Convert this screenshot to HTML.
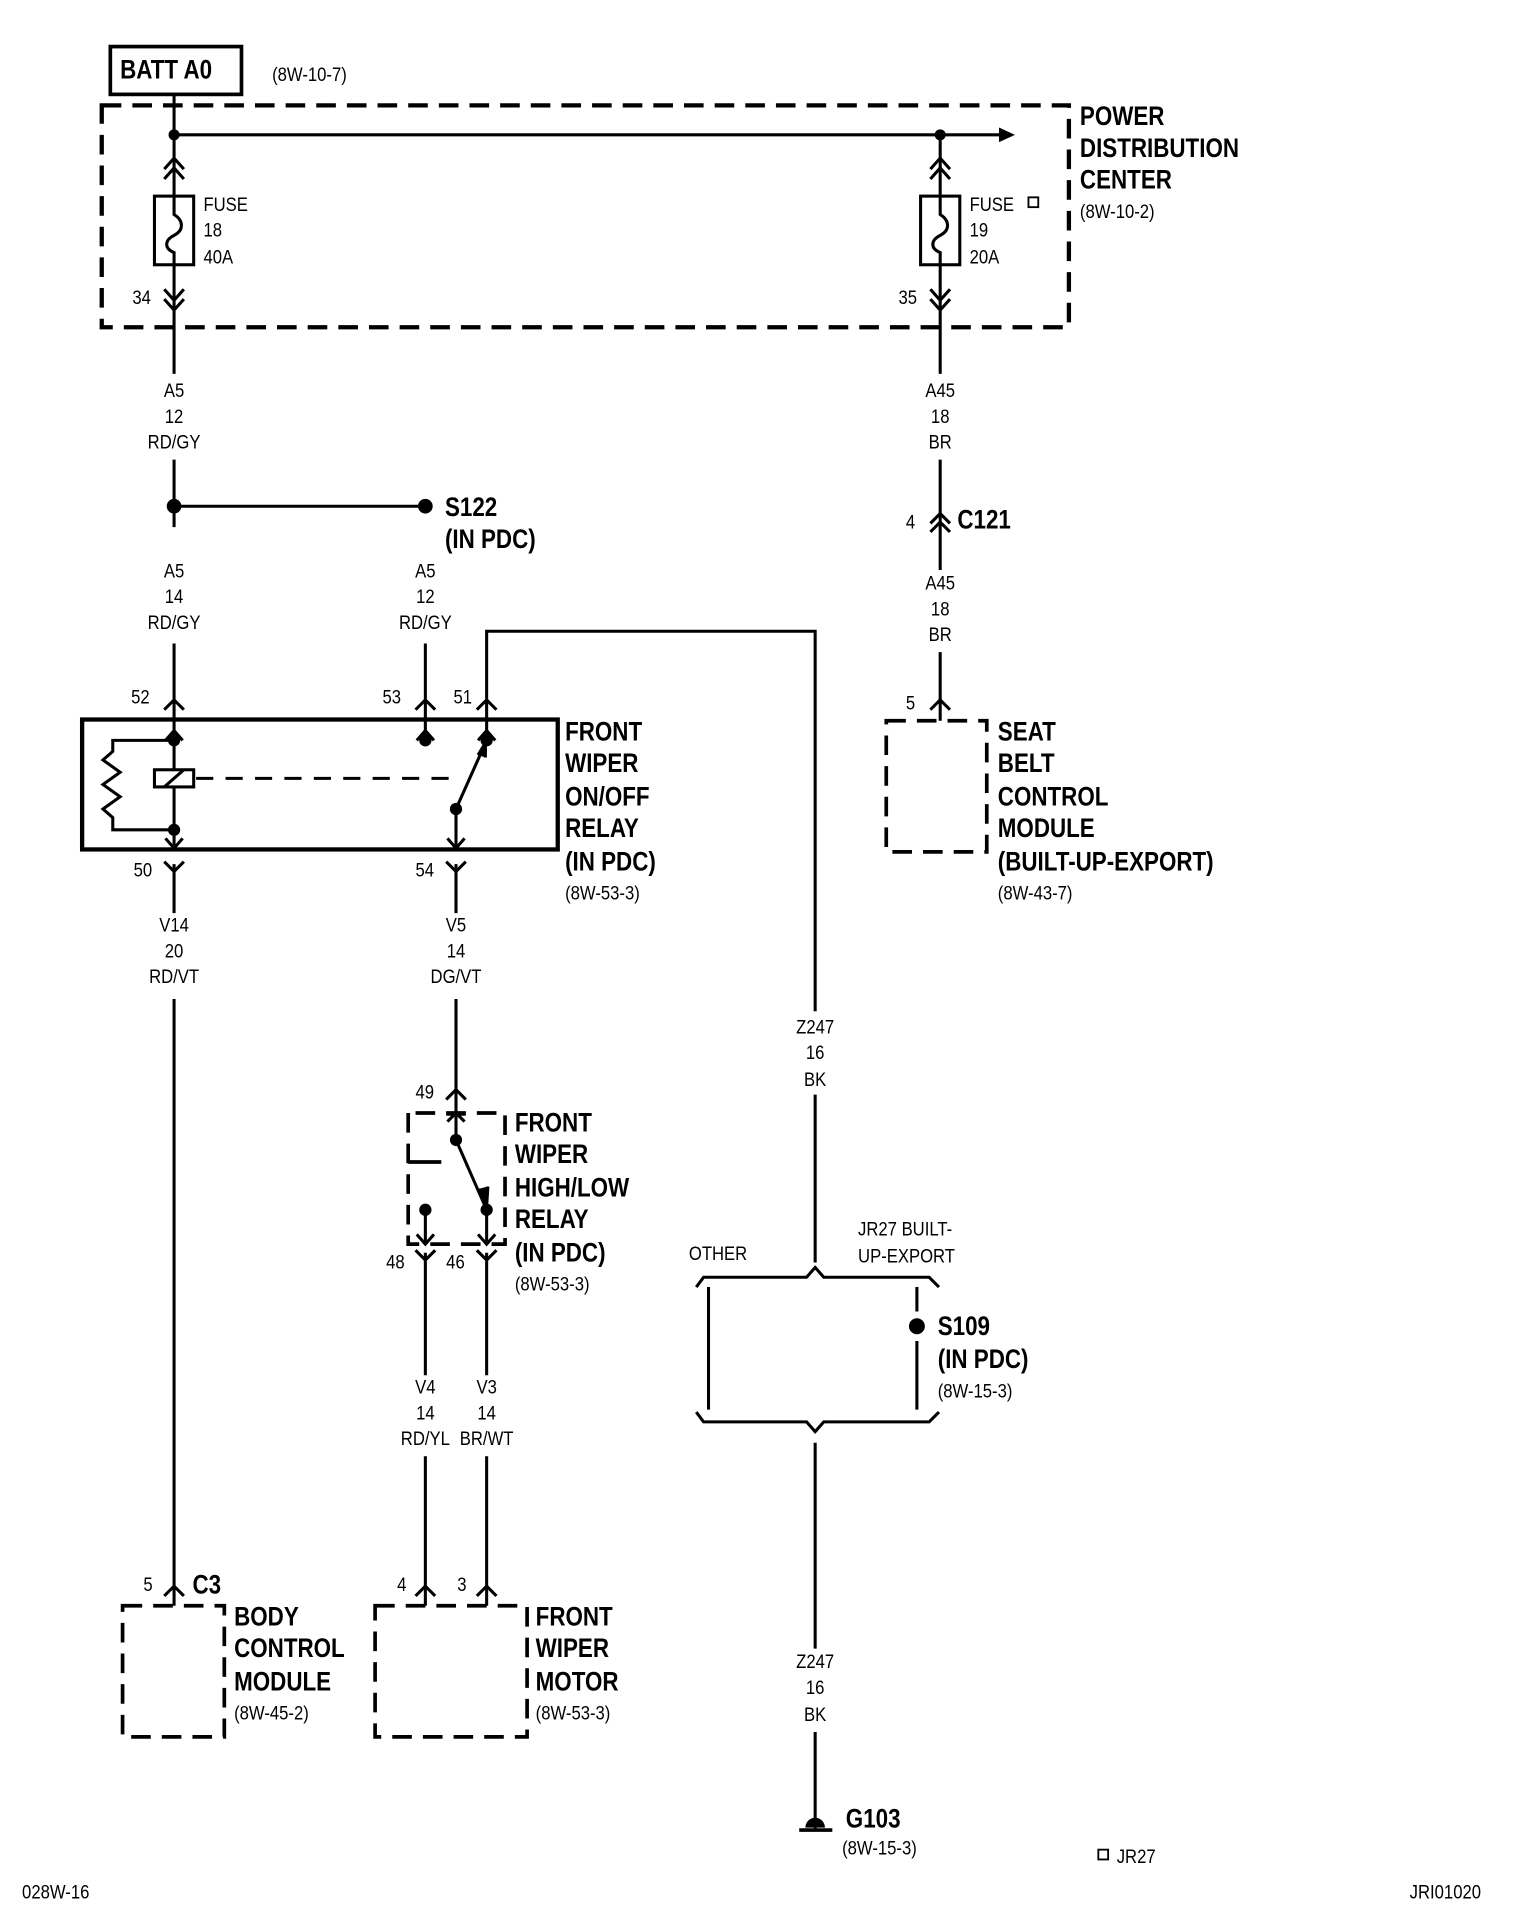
<!DOCTYPE html>
<html><head><meta charset="utf-8"><style>
html,body{margin:0;padding:0;background:#fff;}
svg{display:block;}
text{font-family:"Liberation Sans",sans-serif;fill:#000;transform-box:fill-box;transform-origin:left center;transform:scaleX(0.85);}
.s{font-size:16px;}
.b{font-size:22px;font-weight:bold;transform:scaleX(0.83);}
.c{text-anchor:middle;transform-origin:center center;}
</style></head><body>
<svg width="1520" height="1908" viewBox="0 0 1240 1556.6" preserveAspectRatio="none" xmlns="http://www.w3.org/2000/svg">
<g fill="none" stroke="#000" stroke-width="2.5">
<rect x="90" y="38" width="107" height="39" stroke-width="3"/>
<rect x="83" y="86" width="789" height="181" stroke-width="3.5" stroke-dasharray="16 9"/>
<path d="M142 77 V305"/>
<path d="M142 110 H815"/>
<path d="M767 110 V305"/>
<path d="M134 138 L142 129 L150 138 M134 146 L142 137 L150 146"/>
<rect x="126" y="160" width="32" height="56" fill="#fff"/>
<path d="M142 160 V175 C150 180 150 188 142 192 C134 196 134 203 142 206 V216"/>
<path d="M134 236 L142 245 L150 236 M134 244 L142 253 L150 244"/>
<path d="M759 138 L767 129 L775 138 M759 146 L767 137 L775 146"/>
<rect x="751" y="160" width="32" height="56" fill="#fff"/>
<path d="M767 160 V175 C775 180 775 188 767 192 C759 196 759 203 767 206 V216"/>
<path d="M759 236 L767 245 L775 236 M759 244 L767 253 L775 244"/>
<path d="M142 375 V430"/>
<path d="M142 413 H347"/>
<path d="M142 525 V595"/>
<path d="M134 579 L142 571 L150 579"/>
<path d="M347 525 V608"/>
<path d="M339 579 L347 571 L355 579"/>
<path d="M767 375 V465"/>
<path d="M759 427 L767 419 L775 427 M759 434 L767 426 L775 434"/>
<path d="M767 532 V588"/>
<path d="M759 579 L767 571 L775 579"/>
<rect x="723" y="588" width="82" height="107" stroke-width="3" stroke-dasharray="16 9"/>
<path d="M397 608 V515 H665 V825"/>
<path d="M665 893 V1030"/>
<path d="M389 579 L397 571 L405 579"/>
<rect x="67" y="587" width="388" height="106" stroke-width="3.5"/>
<path d="M142 595 V690"/>
<path d="M135 604 L142 596 L149 604 M340 604 L347 596 L354 604 M390 604 L397 596 L404 604"/>
<path d="M142 604 H92 V613 L84 620 L98 630 L84 640 L98 650 L84 660 L92 667 V677 H142"/>
<rect x="126" y="628" width="32" height="14" fill="#fff"/>
<path d="M134 642 L150 628"/>
<path d="M160 635 H368" stroke-dasharray="14 10"/>
<path d="M372 660 L397 604"/>
<path d="M390 616 L396 606 L396 618" fill="#000"/>
<path d="M372 660 V692"/>
<path d="M365 684 L372 692 L379 684 M135 684 L142 692 L149 684"/>
<path d="M134 703 L142 711 L150 703 M364 703 L372 711 L380 703"/>
<path d="M142 705 V745 M372 705 V745"/>
<path d="M142 815 V1310"/>
<path d="M134 1302 L142 1294 L150 1302"/>
<path d="M372 815 V930"/>
<path d="M364 897 L372 889 L380 897"/>
<path d="M333 908 V1015 H412 V908 H333" stroke-width="3" stroke-dasharray="16 9"/>
<path d="M333 948 H360" stroke-width="3"/>
<path d="M365 915 L372 908 L379 915 M364 909 H380"/>
<path d="M372 930 L397 987"/>
<path d="M390 970 L397 984 L398 968" fill="#000"/>
<path d="M347 987 V1015 M397 987 V1015"/>
<path d="M340 1007 L347 1015 L354 1007 M390 1007 L397 1015 L404 1007"/>
<path d="M339 1020 L347 1028 L355 1020 M389 1020 L397 1028 L405 1020"/>
<path d="M347 1022 V1122 M397 1022 V1122"/>
<path d="M347 1188 V1310 M397 1188 V1310"/>
<path d="M339 1302 L347 1294 L355 1302 M389 1302 L397 1294 L405 1302"/>
<rect x="100" y="1310" width="83" height="107" stroke-width="3" stroke-dasharray="16 9"/>
<rect x="306" y="1310" width="124" height="107" stroke-width="3" stroke-dasharray="16 9"/>
<path d="M568 1050 L574 1042 H658 L665 1034 L672 1042 H758 L766 1050"/>
<path d="M568 1152 L574 1160 H658 L665 1168 L672 1160 H758 L766 1152"/>
<path d="M578 1050 V1150"/>
<path d="M748 1050 V1070 M748 1094 V1150"/>
<path d="M665 1177 V1345 M665 1413 V1493"/>
<path d="M652 1493 H679" stroke-width="3"/>
<rect x="839" y="161" width="8" height="8" stroke-width="1.5"/>
<rect x="896" y="1509" width="8" height="8" stroke-width="1.5"/>
</g>
<g fill="#000">
<path d="M815 104 L828 110 L815 116 Z"/>
<circle cx="142" cy="110" r="4.5"/><circle cx="767" cy="110" r="4.5"/>
<circle cx="142" cy="413" r="6"/><circle cx="347" cy="413" r="6"/>
<circle cx="142" cy="604" r="5"/><circle cx="142" cy="677" r="5"/>
<circle cx="347" cy="604" r="5"/><circle cx="397" cy="604" r="5"/><circle cx="372" cy="660" r="5"/>
<circle cx="372" cy="930" r="5"/><circle cx="347" cy="987" r="5"/><circle cx="397" cy="987" r="5"/>
<circle cx="748" cy="1082" r="6.5"/>
<path d="M657 1491 A8 8 0 0 1 673 1491 Z"/>
</g>
<text class="b" x="98" y="64">BATT A0</text>
<text class="s" x="222" y="66">(8W-10-7)</text>
<text class="s" x="166" y="172">FUSE</text><text class="s" x="166" y="193">18</text><text class="s" x="166" y="215">40A</text>
<text class="s" x="791" y="172">FUSE</text><text class="s" x="791" y="193">19</text><text class="s" x="791" y="215">20A</text>
<text class="s" x="108" y="248">34</text><text class="s" x="733" y="248">35</text>
<text class="b" x="881" y="102">POWER</text><text class="b" x="881" y="128">DISTRIBUTION</text><text class="b" x="881" y="154">CENTER</text>
<text class="s" x="881" y="178">(8W-10-2)</text>
<text class="s c" x="142" y="324">A5</text><text class="s c" x="142" y="345">12</text><text class="s c" x="142" y="366">RD/GY</text>
<text class="s c" x="767" y="324">A45</text><text class="s c" x="767" y="345">18</text><text class="s c" x="767" y="366">BR</text>
<text class="s c" x="142" y="471">A5</text><text class="s c" x="142" y="492">14</text><text class="s c" x="142" y="513">RD/GY</text>
<text class="s c" x="347" y="471">A5</text><text class="s c" x="347" y="492">12</text><text class="s c" x="347" y="513">RD/GY</text>
<text class="s c" x="767" y="481">A45</text><text class="s c" x="767" y="502">18</text><text class="s c" x="767" y="523">BR</text>
<text class="s c" x="142" y="760">V14</text><text class="s c" x="142" y="781">20</text><text class="s c" x="142" y="802">RD/VT</text>
<text class="s c" x="372" y="760">V5</text><text class="s c" x="372" y="781">14</text><text class="s c" x="372" y="802">DG/VT</text>
<text class="s c" x="665" y="843">Z247</text><text class="s c" x="665" y="864">16</text><text class="s c" x="665" y="886">BK</text>
<text class="s c" x="347" y="1137">V4</text><text class="s c" x="347" y="1158">14</text><text class="s c" x="347" y="1179">RD/YL</text>
<text class="s c" x="397" y="1137">V3</text><text class="s c" x="397" y="1158">14</text><text class="s c" x="397" y="1179">BR/WT</text>
<text class="s c" x="665" y="1361">Z247</text><text class="s c" x="665" y="1382">16</text><text class="s c" x="665" y="1404">BK</text>
<text class="b" x="363" y="421">S122</text><text class="b" x="363" y="447">(IN PDC)</text>
<text class="s" x="739" y="431">4</text><text class="b" x="781" y="431">C121</text>
<text class="s" x="739" y="579">5</text>
<text class="b" x="814" y="604">SEAT</text><text class="b" x="814" y="630">BELT</text><text class="b" x="814" y="657">CONTROL</text><text class="b" x="814" y="683">MODULE</text><text class="b" x="814" y="710">(BUILT-UP-EXPORT)</text>
<text class="s" x="814" y="734">(8W-43-7)</text>
<text class="s" x="107" y="574">52</text><text class="s" x="312" y="574">53</text><text class="s" x="370" y="574">51</text>
<text class="s" x="109" y="715">50</text><text class="s" x="339" y="715">54</text>
<text class="b" x="461" y="604">FRONT</text><text class="b" x="461" y="630">WIPER</text><text class="b" x="461" y="657">ON/OFF</text><text class="b" x="461" y="683">RELAY</text><text class="b" x="461" y="710">(IN PDC)</text>
<text class="s" x="461" y="734">(8W-53-3)</text>
<text class="s" x="339" y="896">49</text>
<text class="b" x="420" y="923">FRONT</text><text class="b" x="420" y="949">WIPER</text><text class="b" x="420" y="976">HIGH/LOW</text><text class="b" x="420" y="1002">RELAY</text><text class="b" x="420" y="1029">(IN PDC)</text>
<text class="s" x="420" y="1053">(8W-53-3)</text>
<text class="s" x="315" y="1035">48</text><text class="s" x="364" y="1035">46</text>
<text class="s" x="562" y="1028">OTHER</text>
<text class="s" x="700" y="1008">JR27 BUILT-</text><text class="s" x="700" y="1030">UP-EXPORT</text>
<text class="b" x="765" y="1089">S109</text><text class="b" x="765" y="1116">(IN PDC)</text><text class="s" x="765" y="1140">(8W-15-3)</text>
<text class="s" x="117" y="1298">5</text><text class="b" x="157" y="1300">C3</text>
<text class="s" x="324" y="1298">4</text><text class="s" x="373" y="1298">3</text>
<text class="b" x="191" y="1326">BODY</text><text class="b" x="191" y="1352">CONTROL</text><text class="b" x="191" y="1379">MODULE</text>
<text class="s" x="191" y="1403">(8W-45-2)</text>
<text class="b" x="437" y="1326">FRONT</text><text class="b" x="437" y="1352">WIPER</text><text class="b" x="437" y="1379">MOTOR</text>
<text class="s" x="437" y="1403">(8W-53-3)</text>
<text class="b" x="690" y="1491">G103</text><text class="s" x="687" y="1513">(8W-15-3)</text>
<text class="s" x="911" y="1520">JR27</text>
<text class="s" x="18" y="1549">028W-16</text>
<text class="s" x="1150" y="1549">JRI01020</text>
</svg>
</body></html>
